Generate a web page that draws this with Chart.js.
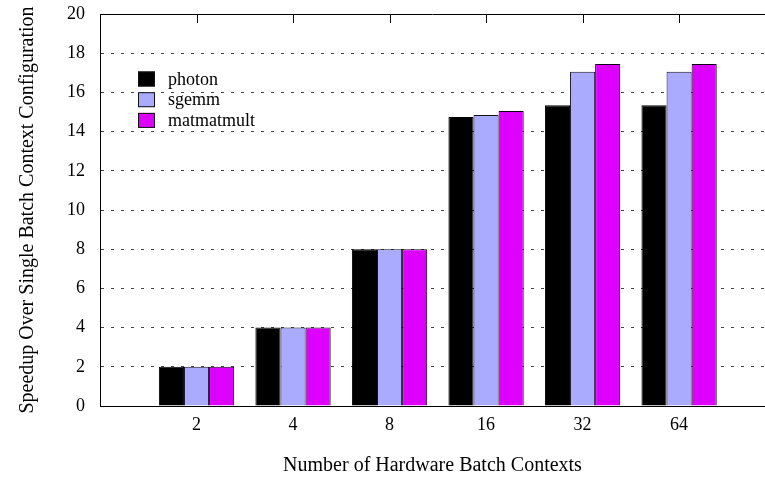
<!DOCTYPE html>
<html>
<head>
<meta charset="utf-8">
<script src="https://cdn.jsdelivr.net/npm/chart.js@4/dist/chart.umd.min.js"></script>
<style>
  html, body { margin: 0; padding: 0; background: #fff; }
  #wrap { width: 765px; height: 481px; }
</style>
</head>
<body>
<div id="wrap"><canvas id="barChart" width="765" height="481"></canvas></div>
<script>
// values
const categories = ["2", "4", "8", "16", "32", "64"];
const photon = [2, 4, 8, 14.75, 15.35, 15.35];
const sgemm = [2, 4, 8, 14.85, 17.05, 17.05];
const matmatmult = [2, 4, 8, 15.05, 17.45, 17.45];
const yTicks = [0, 2, 4, 6, 8, 10, 12, 14, 16, 18, 20];

const FONT = "'Liberation Serif', 'Times New Roman', serif";

function points(values) {
  return values.map((v, i) => ({ x: i, y: v }));
}

// gnuplot-like key inside the plot, plus top border with ticks
const keyPlugin = {
  id: "keyPlugin",
  afterDatasetsDraw(chart) {
    const ctx = chart.ctx;
    const area = chart.chartArea;
    const xs = chart.scales.x;
    ctx.save();
    ctx.strokeStyle = "#000";
    ctx.lineWidth = 1;
    ctx.beginPath();
    ctx.moveTo(area.left, Math.round(area.top) + 0.5);
    ctx.lineTo(area.right, Math.round(area.top) + 0.5);
    categories.forEach((c, i) => {
      const px = Math.round(xs.getPixelForValue(i)) + 0.5;
      ctx.moveTo(px, area.top);
      ctx.lineTo(px, area.top + 9);
    });
    ctx.stroke();

    ctx.font = "18px " + FONT;
    ctx.textBaseline = "middle";
    ctx.textAlign = "left";
    chart.data.datasets.forEach((ds, i) => {
      const cy = 79 + i * 20.7;
      ctx.fillStyle = ds.backgroundColor;
      ctx.fillRect(138, cy - 7.5, 17, 15);
      ctx.strokeStyle = "#111";
      ctx.strokeRect(138.5, cy - 7, 16, 14);
      ctx.fillStyle = "#000";
      ctx.fillText(ds.label, 168, cy + 1);
    });
    ctx.restore();
  },
};

const ctx = document.getElementById("barChart").getContext("2d");
const chart = new Chart(ctx, {
  type: "bar",
  data: {
    datasets: [
      {
        label: "photon",
        data: points(photon),
        backgroundColor: "#000000",
        borderColor: "#000000",
        borderWidth: 1,
      },
      {
        label: "sgemm",
        data: points(sgemm),
        backgroundColor: "#aaaaff",
        borderColor: "#111122",
        borderWidth: 1,
      },
      {
        label: "matmatmult",
        data: points(matmatmult),
        backgroundColor: "#dd00ff",
        borderColor: "#110011",
        borderWidth: 1,
      },
    ],
  },
  options: {
    responsive: false,
    animation: false,
    categoryPercentage: 0.78,
    barPercentage: 1.0,
    layout: { padding: { top: 14, right: 0, left: 0, bottom: 0 } },
    plugins: {
      legend: { display: false },
      tooltip: { enabled: false },
    },
    scales: {
      x: {
        type: "linear",
        min: -1,
        max: 5.89,
        offset: false,
        afterFit: (scale) => {
          scale.height = 75;
          scale.paddingLeft = 0;
          scale.paddingRight = 0;
        },
        afterBuildTicks: (scale) => {
          scale.ticks = categories.map((c, i) => ({ value: i }));
        },
        ticks: {
          color: "#000",
          font: { family: FONT, size: 18 },
          padding: 8,
          maxRotation: 0,
          callback: (v) => categories[v] ?? "",
        },
        grid: { display: false, drawTicks: false, offset: false },
        border: { display: true, color: "#000", width: 1 },
        title: {
          display: true,
          text: "Number of Hardware Batch Contexts",
          color: "#000",
          font: { family: FONT, size: 20 },
          padding: { top: 0, bottom: 3 },
        },
      },
      y: {
        min: 0,
        max: 20,
        afterFit: (scale) => {
          scale.width = 100;
          scale.paddingTop = 0;
          scale.paddingBottom = 0;
        },
        afterBuildTicks: (scale) => {
          scale.ticks = yTicks.map((v) => ({ value: v }));
        },
        ticks: {
          color: "#000",
          font: { family: FONT, size: 18 },
          padding: 15,
        },
        grid: {
          drawTicks: false,
          color: (c) => (c.tick && (c.tick.value === 0 || c.tick.value === 20) ? "rgba(0,0,0,0)" : "#444"),
          lineWidth: 1,
        },
        border: { display: true, color: "#000", width: 1, dash: [3, 7] },
        title: {
          display: true,
          text: "Speedup Over Single Batch Context Configuration",
          color: "#000",
          font: { family: FONT, size: 20 },
          padding: { top: 16, bottom: 0 },
        },
      },
    },
  },
  plugins: [keyPlugin],
});
</script>
</body>
</html>
